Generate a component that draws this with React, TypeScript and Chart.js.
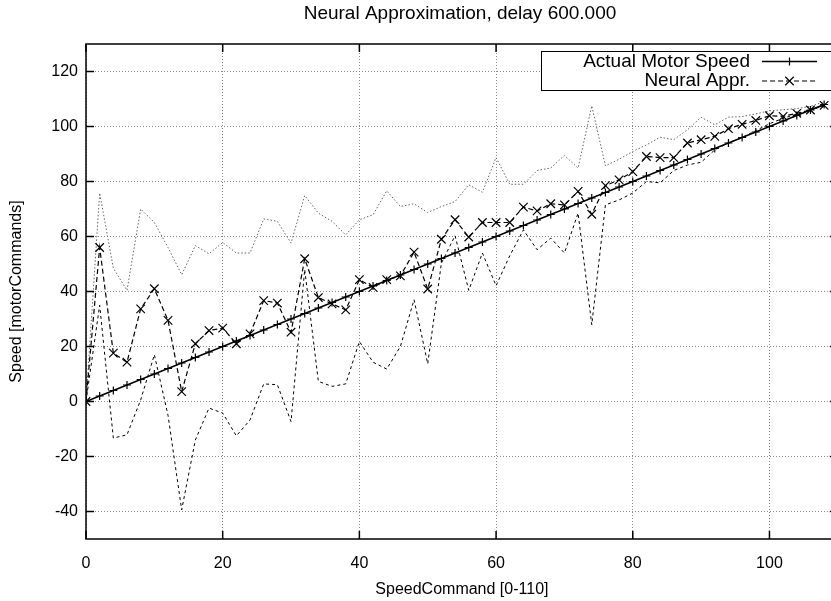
import React, { useEffect, useRef } from "react";
import { Chart, registerables } from "chart.js";

Chart.register(...registerables);

// ---- data ----
const speedCommand = [0, 2, 4, 6, 8, 10, 12, 14, 16, 18, 20, 22, 24, 26, 28, 30, 32, 34, 36, 38, 40, 42, 44, 46, 48, 50, 52, 54, 56, 58, 60, 62, 64, 66, 68, 70, 72, 74, 76, 78, 80, 82, 84, 86, 88, 90, 92, 94, 96, 98, 100, 102, 104, 106, 108];
const actualSpeed = [0, 2, 4, 6, 8, 10, 12, 14, 16, 18, 20, 22, 24, 26, 28, 30, 32, 34, 36, 38, 40, 42, 44, 46, 48, 50, 52, 54, 56, 58, 60, 62, 64, 66, 68, 70, 72, 74, 76, 78, 80, 82, 84, 86, 88, 90, 92, 94, 96, 98, 100, 102, 104, 106, 108];
const neuralAppr = [0, 56.0, 17.6, 14.3, 33.7, 41.0, 29.5, 3.6, 21.0, 25.8, 26.7, 21.0, 24.6, 36.7, 35.8, 25.2, 51.9, 37.8, 35.5, 33.3, 44.3, 41.5, 44.3, 45.7, 54.3, 40.9, 59.0, 66.1, 59.8, 65.1, 65.1, 65.1, 70.7, 69.3, 71.9, 71.5, 76.4, 68.1, 78.5, 80.6, 83.6, 89.1, 88.7, 88.7, 94.0, 95.2, 96.4, 99.2, 100.8, 102.2, 103.9, 103.7, 104.8, 106.0, 107.7];
const upperBound = [0, 75.8, 48.5, 40.4, 70.0, 65.1, 56.0, 46.1, 56.7, 53.7, 57.8, 54.0, 54.0, 66.4, 65.5, 57.6, 74.9, 68.5, 65.5, 60.6, 66.1, 67.9, 76.6, 70.9, 71.9, 68.7, 70.9, 72.7, 78.8, 76.1, 88.7, 79.0, 79.0, 84.0, 84.9, 89.5, 84.9, 107.5, 85.7, 88.1, 90.9, 93.3, 96.1, 95.2, 98.8, 103.4, 100.6, 103.4, 103.6, 104.6, 105.7, 106.1, 106.5, 107.3, 109.0];
const lowerBound = [0, 35.0, -13.3, -12.1, 0.6, 17.0, -5.0, -39.4, -14.0, -2.4, -4.2, -12.5, -6.7, 6.4, 6.1, -7.3, 48.0, 7.3, 5.5, 6.4, 21.8, 14.3, 11.8, 20.0, 37.0, 13.7, 50.3, 60.3, 40.4, 54.0, 42.1, 53.0, 62.4, 55.2, 59.4, 54.0, 68.5, 27.9, 71.5, 73.3, 75.8, 80.0, 79.5, 84.0, 86.0, 87.0, 91.5, 94.0, 96.0, 98.5, 101.0, 103.0, 104.5, 106.0, 107.5];

const xTicks = [0, 20, 40, 60, 80, 100];
const yTicks = [-40, -20, 0, 20, 40, 60, 80, 100, 120];

const chartTitle = "Neural Approximation, delay 600.000";
const xTitle = "SpeedCommand [0-110]";
const yTitle = "Speed [motorCommands]";
const seriesLabels = ["Actual Motor Speed", "Neural Appr."];

const FONT = "'Liberation Sans', Arial, Helvetica, sans-serif";
const TICK_SIZE = 16;
const TEXT_SIZE = 19;

const toPoints = (ys: number[]) => speedCommand.map((x, i) => ({ x, y: ys[i] }));

function drawMarker(ctx: CanvasRenderingContext2D, style: string, x: number, y: number, r: number) {
  ctx.beginPath();
  if (style === "cross") {
    ctx.moveTo(x - r, y);
    ctx.lineTo(x + r, y);
    ctx.moveTo(x, y - r);
    ctx.lineTo(x, y + r);
  } else {
    const d = r * Math.SQRT1_2;
    ctx.moveTo(x - d, y - d);
    ctx.lineTo(x + d, y + d);
    ctx.moveTo(x - d, y + d);
    ctx.lineTo(x + d, y - d);
  }
  ctx.stroke();
}

const framePlugin = {
  id: "gnuFrame",
  afterDatasetsDraw(chart: any) {
    const { ctx, chartArea: a, scales } = chart;
    ctx.save();
    ctx.setLineDash([]);
    ctx.strokeStyle = "#000";
    ctx.lineWidth = 1.5;
    ctx.strokeRect(a.left, a.top, a.right - a.left, a.bottom - a.top);
    ctx.beginPath();
    for (const v of xTicks) {
      const px = scales.x.getPixelForValue(v);
      ctx.moveTo(px, a.bottom);
      ctx.lineTo(px, a.bottom - 8);
      ctx.moveTo(px, a.top);
      ctx.lineTo(px, a.top + 8);
    }
    for (const v of yTicks) {
      const py = scales.y.getPixelForValue(v);
      ctx.moveTo(a.left, py);
      ctx.lineTo(a.left + 8, py);
      ctx.moveTo(a.right, py);
      ctx.lineTo(a.right - 8, py);
    }
    ctx.stroke();

    // chart title
    ctx.fillStyle = "#000";
    ctx.font = `${TEXT_SIZE}px ${FONT}`;
    ctx.textAlign = "center";
    ctx.textBaseline = "middle";
    ctx.fillText(chartTitle, 460, 14);

    // key (gnuplot style)
    const boxLeft = 541;
    const boxTop = 51;
    const boxBottom = 90;
    const boxRight = a.right - 4;
    ctx.fillStyle = "#fff";
    ctx.fillRect(boxLeft, boxTop, boxRight - boxLeft, boxBottom - boxTop);
    ctx.strokeStyle = "#000";
    ctx.lineWidth = 1;
    ctx.strokeRect(boxLeft + 0.5, boxTop + 0.5, boxRight - boxLeft, boxBottom - boxTop);
    ctx.font = `${TEXT_SIZE}px ${FONT}`;
    ctx.textAlign = "right";
    ctx.textBaseline = "middle";
    const rows = [61.5, 81];
    seriesLabels.forEach((label, i) => {
      const ds = chart.data.datasets[i];
      const y = rows[i];
      ctx.fillStyle = "#000";
      ctx.fillText(label, 750, y);
      ctx.strokeStyle = ds.borderColor;
      ctx.lineWidth = ds.borderWidth;
      ctx.setLineDash(ds.borderDash || []);
      ctx.beginPath();
      ctx.moveTo(762, y);
      ctx.lineTo(817, y);
      ctx.stroke();
      ctx.setLineDash([]);
      ctx.lineWidth = ds.pointBorderWidth;
      drawMarker(ctx, ds.pointStyle, 789.5, y, ds.pointRadius);
    });
    ctx.restore();
  },
};

export default function App() {
  const canvasRef = useRef<HTMLCanvasElement | null>(null);

  useEffect(() => {
    const canvas = canvasRef.current;
    if (!canvas) return;
    const tickFont = { family: FONT, size: TICK_SIZE };
    const chart = new Chart(canvas, {
      type: "line",
      data: {
        datasets: [
          {
            label: seriesLabels[0],
            data: toPoints(actualSpeed),
            borderColor: "#000",
            borderWidth: 1.5,
            pointStyle: "cross",
            pointRadius: 4,
            pointBorderWidth: 1.2,
            pointBorderColor: "#000",
            pointBackgroundColor: "#000",
            fill: false,
            tension: 0,
          },
          {
            label: seriesLabels[1],
            data: toPoints(neuralAppr),
            borderColor: "#000",
            borderWidth: 1.2,
            borderDash: [5, 3],
            pointStyle: "crossRot",
            pointRadius: 6,
            pointBorderWidth: 1.2,
            pointBorderColor: "#000",
            pointBackgroundColor: "#000",
            fill: false,
            tension: 0,
          },
          {
            label: "upper",
            data: toPoints(upperBound),
            borderColor: "#666",
            borderWidth: 1,
            borderDash: [1.5, 2],
            pointRadius: 0,
            fill: false,
            tension: 0,
          },
          {
            label: "lower",
            data: toPoints(lowerBound),
            borderColor: "#000",
            borderWidth: 1,
            borderDash: [3, 3],
            pointRadius: 0,
            fill: false,
            tension: 0,
          },
        ],
      },
      options: {
        animation: false,
        responsive: false,
        devicePixelRatio: 1,
        layout: { padding: { top: 44, right: 4.4, left: 0, bottom: 0 } },
        plugins: {
          legend: { display: false },
          tooltip: { enabled: false },
          title: { display: false },
        },
        scales: {
          x: {
            type: "linear",
            min: 0,
            max: 110,
            afterBuildTicks: (s: any) => {
              s.ticks = xTicks.map((v) => ({ value: v }));
            },
            afterFit: (s: any) => {
              s.height = 62;
            },
            grid: { color: "#888", lineWidth: 1, drawTicks: false },
            border: { display: false, dash: [1, 2] },
            ticks: { padding: 15, color: "#000", font: tickFont, maxRotation: 0, autoSkip: false },
            title: { display: true, text: xTitle, color: "#000", font: tickFont, padding: { top: 0, bottom: 2 } },
          },
          y: {
            type: "linear",
            min: -50,
            max: 130,
            afterBuildTicks: (s: any) => {
              s.ticks = yTicks.map((v) => ({ value: v }));
            },
            afterFit: (s: any) => {
              s.width = 86;
            },
            grid: { color: "#888", lineWidth: 1, drawTicks: false },
            border: { display: false, dash: [1, 2] },
            ticks: { padding: 8, color: "#000", font: tickFont, autoSkip: false },
            title: { display: true, text: yTitle, color: "#000", font: tickFont, padding: { top: 7, bottom: 0 } },
          },
        },
      },
      plugins: [framePlugin],
    } as any);
    return () => chart.destroy();
  }, []);

  return (
    <div style={{ position: "fixed", left: 0, top: 0, width: 831, height: 601, overflow: "hidden", background: "#fff" }}>
      <canvas ref={canvasRef} width={845} height={601} style={{ display: "block", width: 845, height: 601 }} />
    </div>
  );
}
